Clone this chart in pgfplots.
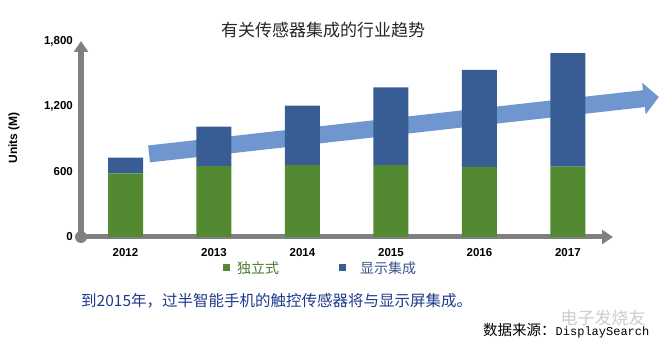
\documentclass[border=0pt]{standalone}
\usepackage{pgfplots}
\usepackage{pgfplotstable}
\pgfplotsset{compat=1.18}
\usetikzlibrary{arrows.meta}
\usepackage{fontspec}
\setmainfont{Liberation Sans}
\newfontfamily\cjk{Noto Sans CJK SC}
\newfontfamily\mono{Liberation Mono}
\definecolor{bargreen}{HTML}{538A31}
\definecolor{barblue}{HTML}{385D95}
\definecolor{arrowblue}{HTML}{7096CF}
\definecolor{axisgray}{HTML}{808080}
\definecolor{captionblue}{HTML}{1F3A8C}
\definecolor{legendgreen}{HTML}{4A7A2A}
\definecolor{legendblue}{HTML}{3A5688}

\pgfplotstableread{
idx green blue
0 585 144
1 651 362
2 661 545
3 661 714
4 643 891
5 646 1042
}\datatable

\pgfplotsset{frame/.style={
  at={(81bp,116bp)}, anchor=south west,
  scale only axis, width=532bp, height=196bp,
  xmin=-0.503, xmax=5.51, ymin=0, ymax=1800, clip=false}}

\begin{document}
\begin{tikzpicture}
\path[use as bounding box] (0bp,0bp) rectangle (668bp,353bp);
% trend arrow, behind the bars
\begin{axis}[frame, hide axis]
\draw[arrowblue, line width=17bp, -{Triangle[width=31bp,length=15bp]}] (axis cs:0.266,763) -- (axis cs:6.028,1286);
\end{axis}
\begin{axis}[
  frame,
  ybar stacked, bar width=35bp,
  axis x line=bottom, axis y line=left,
  axis line style={draw=axisgray, line width=5bp},
  every outer x axis line/.append style={-{Triangle[width=14bp,length=11bp]}},
  every outer y axis line/.append style={-{Triangle[width=14bp,length=11bp]}},
  xtick={0,...,5}, xticklabels={2012,2013,2014,2015,2016,2017},
  ytick={0,600,1200,1800}, yticklabels={0,600,{1,200},{1,800}},
  major tick length=0pt,
  /pgf/number format/assume math mode=true,
  tick label style={font=\bfseries\fontsize{11.5bp}{13bp}\selectfont, inner sep=0pt},
  xticklabel style={anchor=north, yshift=-11bp},
  yticklabel style={anchor=east, xshift=-8bp},
]
\addplot[fill=bargreen, draw=none] table[x=idx,y=green]{\datatable};
\addplot[fill=barblue, draw=none] table[x=idx,y=blue]{\datatable};
\fill[axisgray] (rel axis cs:0,0) circle[radius=6bp];
\end{axis}
\node[rotate=90, font=\bfseries\fontsize{12bp}{14bp}\selectfont] at (14bp,215bp) {Units (M)};
\node[font=\cjk\fontsize{17bp}{20bp}\selectfont, text=black!85] at (323bp,323bp) {有关传感器集成的行业趋势};
\fill[bargreen] (223bp,82bp) rectangle (230bp,89bp);
\node[anchor=west, inner sep=0pt, font=\cjk\fontsize{14bp}{16bp}\selectfont, text=legendgreen] at (237bp,85bp) {独立式};
\fill[barblue] (339bp,82bp) rectangle (346bp,89bp);
\node[anchor=west, inner sep=0pt, font=\cjk\fontsize{14bp}{16bp}\selectfont, text=legendblue] at (360bp,85bp) {显示集成};
\node[anchor=west, inner sep=0pt, font=\cjk\fontsize{15.5bp}{18bp}\selectfont, text=captionblue] at (81bp,52bp) {到2015年，过半智能手机的触控传感器将与显示屏集成。};
\node[text=black!20, font=\cjk\fontsize{17bp}{20bp}\selectfont] at (603bp,35bp) {电子发烧友};
\node[anchor=west, inner sep=0pt] at (483bp,22bp) {\cjk\fontsize{14.5bp}{17bp}\selectfont 数据来源：\mono\fontsize{12bp}{14bp}\selectfont DisplaySearch};
\end{tikzpicture}
\end{document}
